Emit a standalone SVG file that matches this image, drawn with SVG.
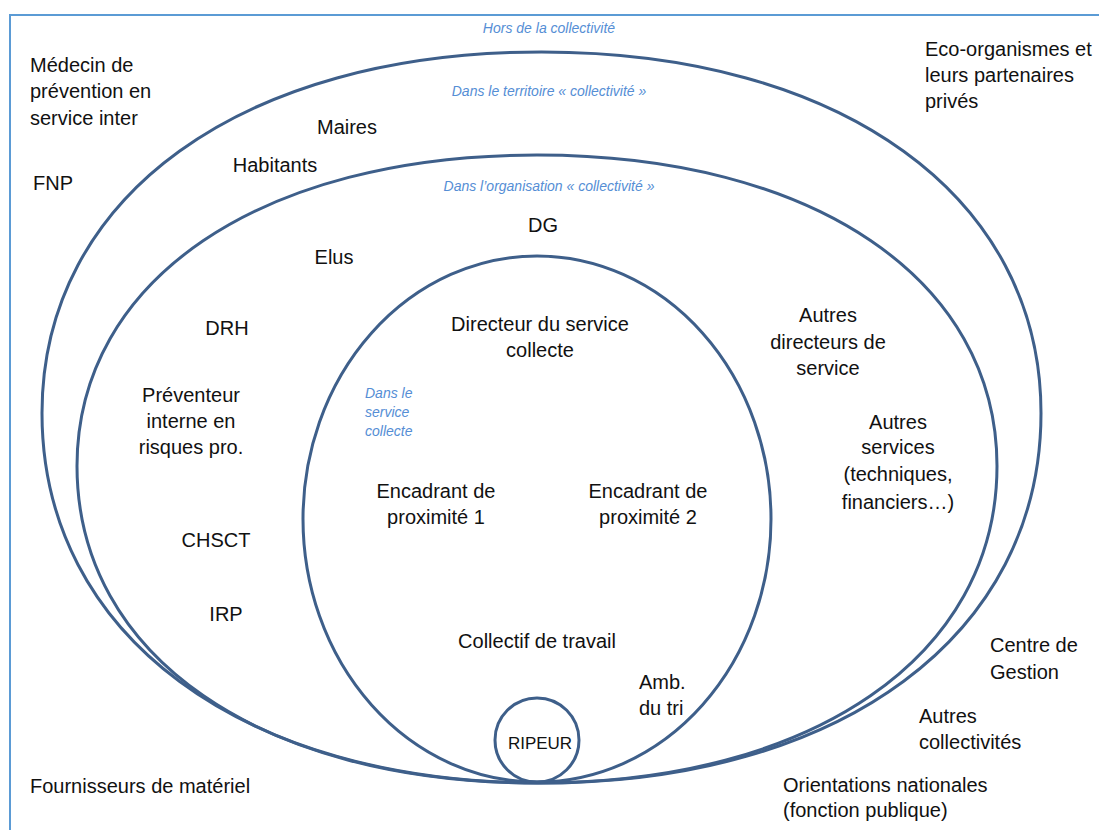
<svg xmlns="http://www.w3.org/2000/svg" width="1099" height="830" viewBox="0 0 1099 830">
<style>
.zone{fill:none;stroke:#3e5f8a;stroke-width:3}
.t{font-family:"Liberation Sans",Arial,sans-serif;font-size:20px;fill:#111}
.c{text-anchor:middle}
.lbl{font-family:"Liberation Sans",Arial,sans-serif;font-size:14px;font-style:italic;fill:#558ed5}
</style>
<rect x="10" y="15" width="1110" height="830" fill="#ffffff" stroke="#5b9bd5" stroke-width="2"/>
<g id="zone-territoire">
<path class="zone" d="M42,413 C42,196.4 241.8,52 541.5,52 C841.2,52 1041,196.4 1041,413 C1041,635 841.2,783 541.5,783 C241.8,783 42,635 42,413 Z"/>
</g>
<g id="zone-organisation">
<path class="zone" d="M77,466 C77,279.4 261,155 537,155 C813,155 997,279.4 997,466 C997,656.2 813,783 537,783 C261,783 77,656.2 77,466 Z"/>
</g>
<g id="zone-service">
<ellipse class="zone" cx="537" cy="519" rx="234" ry="263"/>
</g>
<g id="ripeur">
<circle class="zone" cx="537" cy="740" r="42"/>
<text class="t c" x="540" y="749" style="font-size:17px">RIPEUR</text>
</g>
<g id="zone-labels">
<text class="lbl c" x="549" y="33">Hors de la collectivité</text>
<text class="lbl c" x="549" y="96">Dans le territoire « collectivité »</text>
<text class="lbl c" x="549" y="191">Dans l’organisation « collectivité »</text>
<text class="lbl" x="365" y="398">Dans le</text>
<text class="lbl" x="365" y="417">service</text>
<text class="lbl" x="365" y="436">collecte</text>
</g>
<g id="medecin"><text class="t" x="30" y="72">Médecin de</text><text class="t" x="30" y="98">prévention en</text><text class="t" x="30" y="125">service inter</text></g>
<g id="fnp"><text class="t" x="33" y="190">FNP</text></g>
<g id="eco"><text class="t" x="925" y="56">Eco-organismes et</text><text class="t" x="925" y="82">leurs partenaires</text><text class="t" x="925" y="108">privés</text></g>
<g id="maires"><text class="t c" x="347" y="134">Maires</text></g>
<g id="habitants"><text class="t c" x="275" y="172">Habitants</text></g>
<g id="dg"><text class="t c" x="543" y="232">DG</text></g>
<g id="elus"><text class="t c" x="334" y="264">Elus</text></g>
<g id="drh"><text class="t c" x="227" y="335">DRH</text></g>
<g id="preventeur"><text class="t c" x="191" y="402">Préventeur</text><text class="t c" x="191" y="428">interne en</text><text class="t c" x="191" y="454">risques pro.</text></g>
<g id="chsct"><text class="t c" x="216" y="547">CHSCT</text></g>
<g id="irp"><text class="t c" x="226" y="621">IRP</text></g>
<g id="directeur"><text class="t c" x="540" y="331">Directeur du service</text><text class="t c" x="540" y="357">collecte</text></g>
<g id="encadrant1"><text class="t c" x="436" y="498">Encadrant de</text><text class="t c" x="436" y="524">proximité 1</text></g>
<g id="encadrant2"><text class="t c" x="648" y="498">Encadrant de</text><text class="t c" x="648" y="524">proximité 2</text></g>
<g id="collectif"><text class="t c" x="537" y="648">Collectif de travail</text></g>
<g id="amb"><text class="t" x="639" y="689">Amb.</text><text class="t" x="639" y="715">du tri</text></g>
<g id="autres-directeurs"><text class="t c" x="828" y="322">Autres</text><text class="t c" x="828" y="349">directeurs de</text><text class="t c" x="828" y="375">service</text></g>
<g id="autres-services"><text class="t c" x="898" y="429">Autres</text><text class="t c" x="898" y="454">services</text><text class="t c" x="898" y="481">(techniques,</text><text class="t c" x="898" y="509">financiers…)</text></g>
<g id="centre-gestion"><text class="t" x="990" y="652">Centre de</text><text class="t" x="990" y="679">Gestion</text></g>
<g id="autres-collectivites"><text class="t" x="919" y="723">Autres</text><text class="t" x="919" y="749">collectivités</text></g>
<g id="orientations"><text class="t" x="783" y="792">Orientations nationales</text><text class="t" x="783" y="817">(fonction publique)</text></g>
<g id="fournisseurs"><text class="t" x="30" y="793">Fournisseurs de matériel</text></g>
<g id="connectors"></g>
</svg>
